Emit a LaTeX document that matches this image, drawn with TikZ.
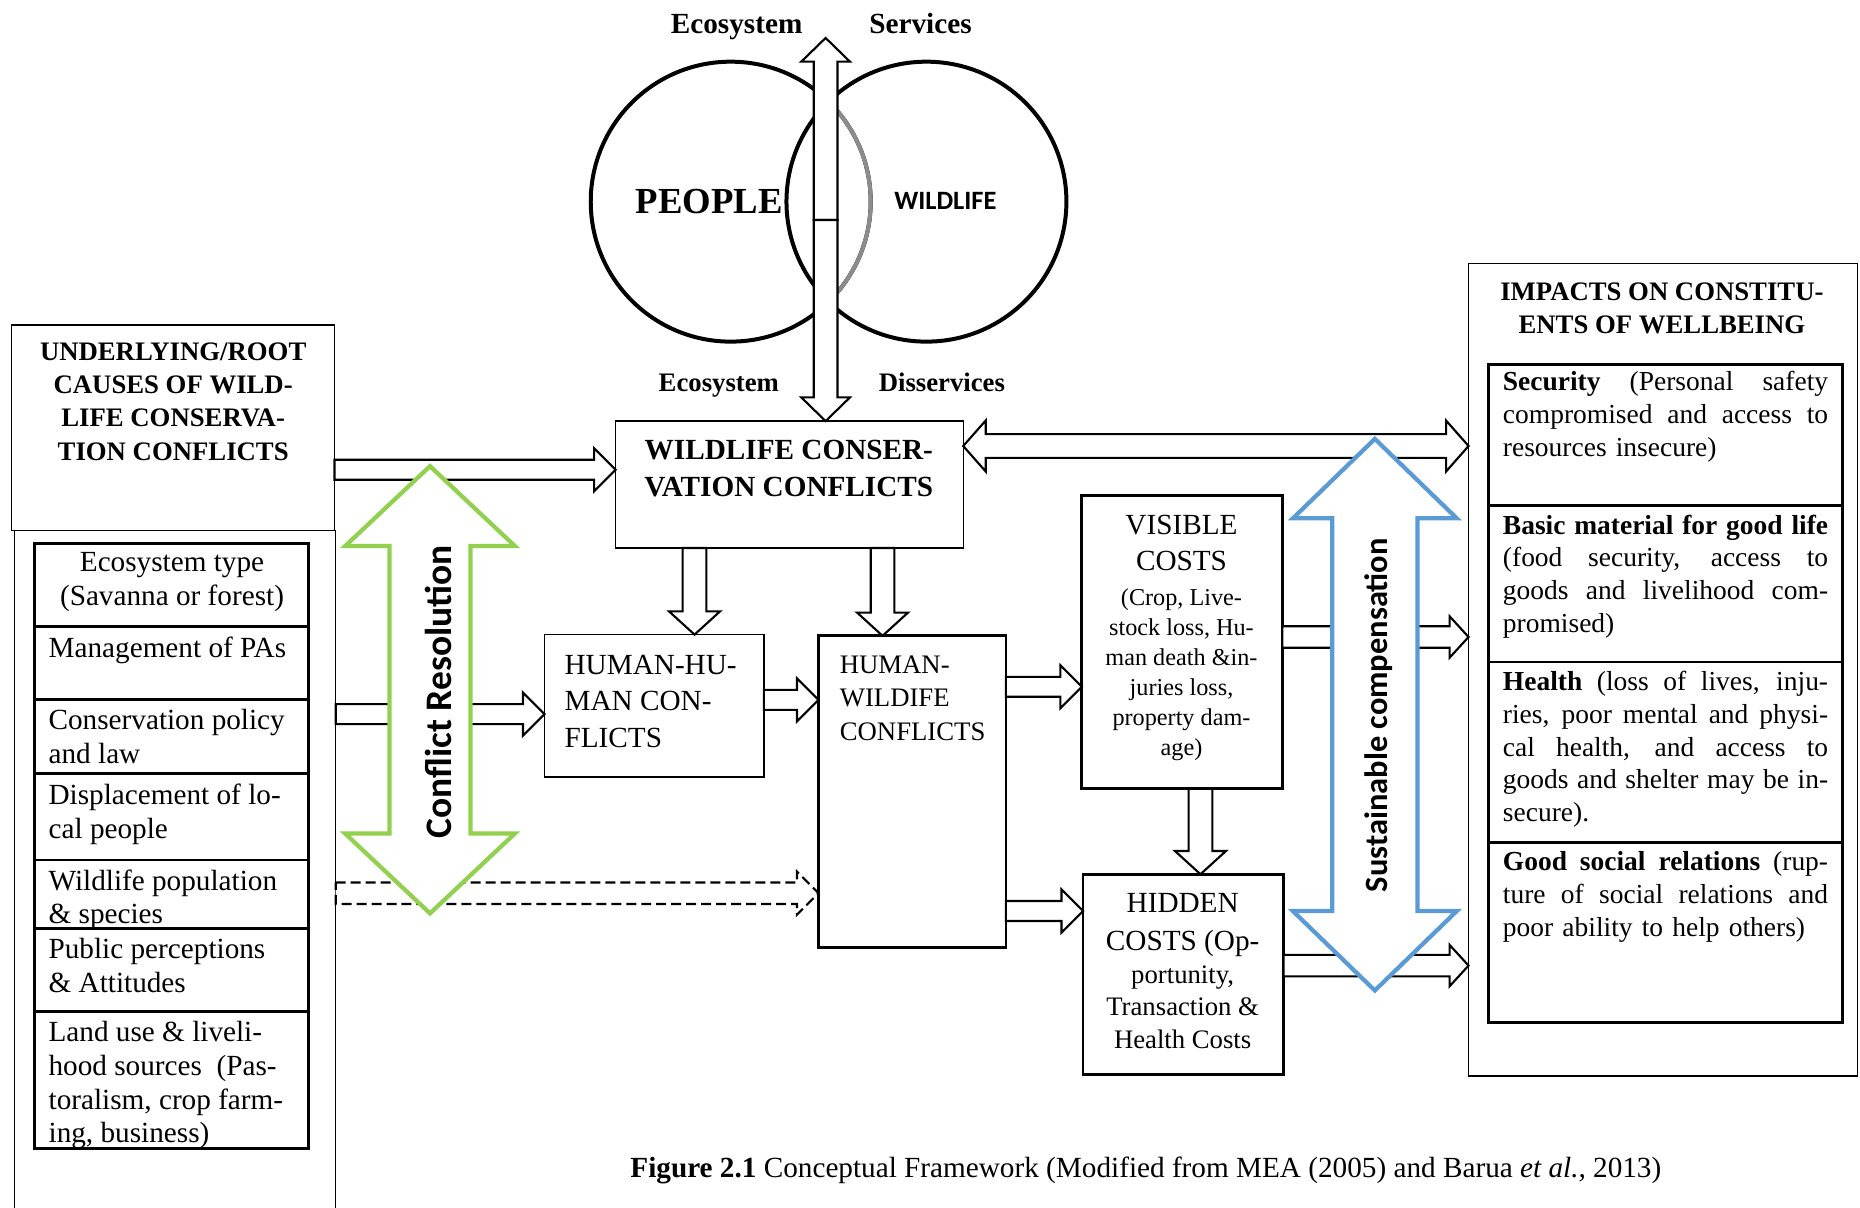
\documentclass[tikz,border=0pt]{standalone}
\usepackage{fontspec}
\setmainfont{Liberation Serif}
\newfontfamily\calibri{Carlito}
\usetikzlibrary{calc,fit}
\definecolor{crgreen}{HTML}{92D050}
\definecolor{scblue}{HTML}{5B9BD5}
\definecolor{lensgray}{HTML}{8C8C8C}

\newcommand{\blockarrow}[6][]{%
  \coordinate (hb) at ($(#3)!#6!(#2)$);
  \draw[arrowline,#1] ($(#2)!#4!90:(#3)$) -- ($(hb)!#4!90:(#3)$) -- ($(hb)!#5!90:(#3)$) -- (#3)
    -- ($(hb)!#5!-90:(#3)$) -- ($(hb)!#4!-90:(#3)$) -- ($(#2)!#4!-90:(#3)$) -- cycle;}
\newcommand{\dblockarrow}[6][]{%
  \coordinate (ha) at ($(#2)!#6!(#3)$);
  \coordinate (hb) at ($(#3)!#6!(#2)$);
  \draw[arrowline,#1] (#2) -- ($(ha)!#5!90:(#3)$) -- ($(ha)!#4!90:(#3)$) -- ($(hb)!#4!90:(#3)$)
    -- ($(hb)!#5!90:(#3)$) -- (#3) -- ($(hb)!#5!-90:(#3)$) -- ($(hb)!#4!-90:(#3)$)
    -- ($(ha)!#4!-90:(#3)$) -- ($(ha)!#5!-90:(#3)$) -- cycle;}
\newcommand{\fullline}[1]{{\spaceskip=0pt\xspaceskip=0pt\makebox[130.2pt][s]{#1}}}

\begin{document}
\begin{tikzpicture}[x=0.0167cm, y=-0.0167cm,
every node/.style={inner sep=0pt, outer sep=0pt},
thinbox/.style={draw, line width=0.5pt},
thickbox/.style={draw, line width=1.1pt},
arrowline/.style={fill=white, line width=0.85pt, line join=miter},
ring/.style={line width=1.6pt},
txt/.style={font=\fontsize{11.7}{13.5}\selectfont, align=left},
head/.style={font=\bfseries\fontsize{10.7}{13.3}\selectfont, align=center},
impact/.style={font=\fontsize{11}{13.1}\selectfont, align=left, text width=130.2pt, anchor=north west},
resolution/.style={draw=crgreen, line width=1.7pt},
compensation/.style={draw=scblue, line width=1.7pt},
vlabel/.style={rotate=90, font=\calibri\bfseries\fontsize{15}{18}\selectfont}]

\useasboundingbox (0,0) rectangle (1568,1018);

\draw[ring] (616,170) circle [radius=118];
\begin{scope}
  \clip (781,170) circle [radius=118];
  \draw[ring, lensgray] (616,170) circle [radius=118];
\end{scope}
\draw[ring] (781,170) circle [radius=118];
\node[font=\bfseries\fontsize{14.7}{17}\selectfont, anchor=base] (people) at (598,180) {PEOPLE};
\node[font=\calibri\bfseries\fontsize{10.6}{13}\selectfont, anchor=base] (wildlife) at (797,177) {WILDLIFE};
\node[font=\bfseries\fontsize{11.7}{14}\selectfont, anchor=base] (esup) at (621,28) {Ecosystem};
\node[font=\bfseries\fontsize{11.7}{14}\selectfont, anchor=base] (services) at (776,28) {Services};
\node[font=\bfseries\fontsize{10.7}{13}\selectfont, anchor=base] (esdown) at (606,330) {Ecosystem};
\node[font=\bfseries\fontsize{10.7}{13}\selectfont, anchor=base] (disservices) at (794,330) {Disservices};

\node[thinbox, fit={(10,274) (282,447)}] (root) {};
\node[head, anchor=north] (roottext) at (146,289) {UNDERLYING/ROOT\\CAUSES OF WILD-\\LIFE CONSERVA-\\TION CONFLICTS};
\node[fit={(12,447) (283,1018)}] (lst) {};
\draw[line width=0.5pt] (lst.south west) -- (lst.north west) -- (lst.north east) -- (lst.south east);
\node[thickbox, fit={(29,458) (260,968)}] (causes) {};
\foreach \y in {528,590,652,725,783,853}
  \draw[line width=1.1pt] (causes.west |- 0,\y) -- (causes.east |- 0,\y);
\node[txt, align=center, anchor=north] (ecotype) at (145,466) {Ecosystem type\\(Savanna or forest)};
\node[txt, anchor=north west] (pas) at (41,537) {Management of PAs};
\node[txt, anchor=north west] (policy) at (41,598) {Conservation policy\\and law};
\node[txt, anchor=north west] (displace) at (41,661) {Displacement of lo-\\cal people};
\node[txt, anchor=north west] (species) at (41,733) {Wildlife population\\\& species};
\node[txt, anchor=north west] (attitudes) at (41,791) {Public perceptions\\\& Attitudes};
\node[txt, anchor=north west] (landuse) at (41,861) {Land use \& liveli-\\hood sources\ \ (Pas-\\toralism, crop farm-\\ing, business)};

\node[thinbox, fit={(519,355) (812,462)}] (wcc) {};
\node[font=\bfseries\fontsize{11.7}{14.7}\selectfont, align=center, anchor=north] (wcctext) at (665,371) {WILDLIFE CONSER-\\VATION CONFLICTS};
\node[thinbox, fit={(459,535) (644,655)}] (hhc) {};
\node[font=\fontsize{11.7}{14.7}\selectfont, align=left, anchor=north west] (hhctext) at (476,552) {HUMAN-HU-\\MAN CON-\\FLICTS};
\node[thickbox, fit={(690,536) (848,799)}] (hwc) {};
\node[font=\fontsize{10.7}{13.3}\selectfont, align=left, anchor=north west] (hwctext) at (708,553) {HUMAN-\\WILDIFE\\CONFLICTS};
\node[thickbox, fit={(912,418) (1081,665)}] (vis) {};
\node[font=\fontsize{11.7}{14.7}\selectfont, align=center, anchor=north] (vistitle) at (996,434) {VISIBLE\\COSTS};
\node[font=\fontsize{9.7}{12}\selectfont, align=center, anchor=north] (vistext) at (996,496) {(Crop, Live-\\stock loss, Hu-\\man death \&in-\\juries loss,\\property dam-\\age)};
\node[thickbox, fit={(913,737) (1082,906)}] (hid) {};
\node[font=\fontsize{11.7}{15.2}\selectfont, align=center, anchor=north] (hidtitle) at (997,753) {HIDDEN\\COSTS (Op-};
\node[font=\fontsize{10.7}{13.1}\selectfont, align=center, anchor=north] (hidtext) at (997,814) {portunity,\\Transaction \&\\Health Costs};

\node[thinbox, fit={(1238,222) (1566,907)}] (imp) {};
\node[font=\bfseries\fontsize{10.7}{13.3}\selectfont, align=center, anchor=north] (imptext) at (1401,238) {IMPACTS ON CONSTITU-\\ENTS OF WELLBEING};
\node[thickbox, fit={(1255,307) (1553,862)}] (wb) {};
\foreach \y in {426,558,710}
  \draw[line width=1.1pt] (wb.west |- 0,\y) -- (wb.east |- 0,\y);
\node[impact] (security) at (1267,313) {\fullline{\textbf{Security} (Personal safety}\\\fullline{compromised and access to}\\resources insecure)};
\node[impact] (material) at (1267,434) {\fullline{\textbf{Basic material for good life}}\\\fullline{(food security, access to}\\\fullline{goods and livelihood com-}\\promised)};
\node[impact] (health) at (1267,566) {\fullline{\textbf{Health} (loss of lives, inju-}\\\fullline{ries, poor mental and physi-}\\\fullline{cal health, and access to}\\\fullline{goods and shelter may be in-}\\secure).};
\node[impact] (social) at (1267,718) {\fullline{\textbf{Good social relations} (rup-}\\\fullline{ture of social relations and}\\poor ability to help others)};

\coordinate (split) at (696,185.5);
\coordinate (estop) at (696,32);
\blockarrow{split}{estop}{4.75pt}{9.75pt}{9.5pt}
\blockarrow{split}{split |- wcc.north}{4.75pt}{9.75pt}{9.5pt}
\blockarrow{root.east |- 0,396}{wcc.west |- 0,396}{4pt}{8.6pt}{8.6pt}
\blockarrow{lst.east |- 0,602}{hhc.west |- 0,602}{4pt}{8.6pt}{8.6pt}
\blockarrow{hhc.east |- 0,590}{hwc.west |- 0,590}{4pt}{8.6pt}{8.6pt}
\blockarrow{hwc.east |- 0,579}{vis.west |- 0,579}{4pt}{8.6pt}{8.6pt}
\blockarrow{hwc.east |- 0,768}{hid.west |- 0,768}{4pt}{8.6pt}{8.6pt}
\blockarrow{vis.east |- 0,537}{imp.west |- 0,537}{4.3pt}{8.3pt}{7.6pt}
\blockarrow{hid.east |- 0,814}{imp.west |- 0,814}{4.3pt}{8.3pt}{7.6pt}
\dblockarrow{wcc.east |- 0,376}{imp.west |- 0,376}{4.75pt}{10.2pt}{9pt}
\blockarrow[dash pattern=on 4pt off 2pt]{lst.east |- 0,753}{hwc.west |- 0,753}{4.3pt}{8.6pt}{8.6pt}
\blockarrow{wcc.south -| 585.5,0}{hhc.north -| 585.5,0}{4.75pt}{10.2pt}{9.3pt}
\blockarrow{wcc.south -| 744,0}{hwc.north -| 744,0}{4.75pt}{10.2pt}{9.3pt}
\blockarrow{vis.south -| 1012,0}{hid.north -| 1012,0}{4.75pt}{10.2pt}{9.3pt}

\coordinate (crtop) at (362.5,393);
\coordinate (crbot) at (362.5,770);
\dblockarrow[resolution]{crtop}{crbot}{16.2pt}{34pt}{32pt}
\node[vlabel] (crtext) at (370,583) {Conflict Resolution};
\coordinate (sctop) at (1159,370);
\coordinate (scbot) at (1159,835);
\dblockarrow[compensation]{sctop}{scbot}{17.1pt}{32.8pt}{31.8pt}
\node[vlabel, font=\calibri\bfseries\fontsize{13}{16}\selectfont] (sctext) at (1162,603) {Sustainable compensation};

\node[font=\fontsize{11.7}{14}\selectfont, anchor=base] (caption) at (966,993) {\textbf{Figure 2.1} Conceptual Framework (Modified from MEA (2005) and Barua \textit{et al.,} 2013)};
\end{tikzpicture}
\end{document}
